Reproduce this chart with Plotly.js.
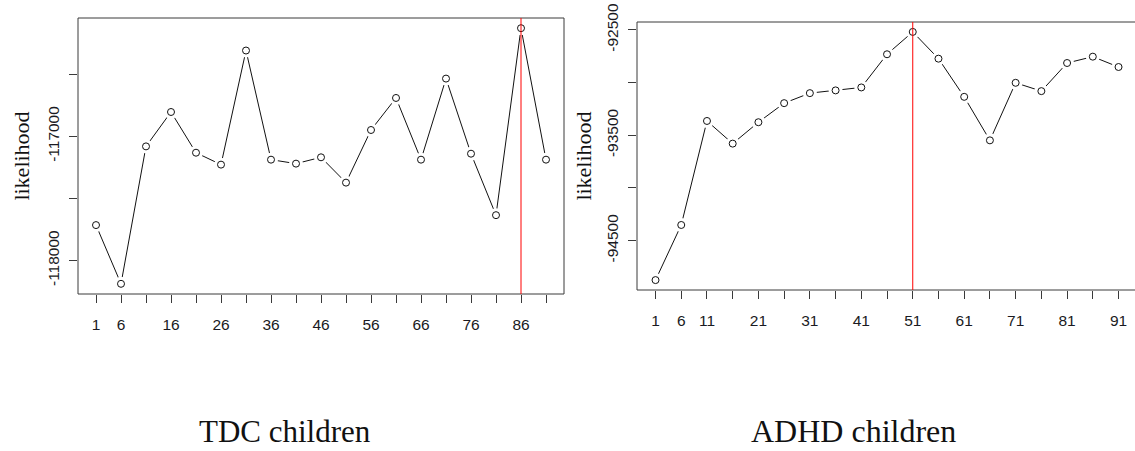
<!DOCTYPE html>
<html>
<head>
<meta charset="utf-8">
<script src="https://cdn.plot.ly/plotly-3.0.1.min.js"></script>
<style>
  html, body { margin: 0; padding: 0; background: #ffffff; }
  #chart { width: 1135px; height: 451px; }
</style>
</head>
<body>
<div id="chart"></div>
<script>
// ---- data ----
const clusters = [1, 6, 11, 16, 21, 26, 31, 36, 41, 46, 51, 56, 61, 66, 71, 76, 81, 86, 91];
const tdcLikelihood = [-117715, -118188, -117081, -116804, -117132, -117228, -116309, -117188, -117220,
                       -117169, -117373, -116949, -116691, -117188, -116535, -117140, -117635, -116129, -117188];
const adhdLikelihood = [-94874, -94351, -93364, -93579, -93376, -93195, -93100, -93074, -93046,
                        -92731, -92519, -92773, -93135, -93548, -93002, -93081, -92814, -92754, -92852];
const tdcBest = 86;
const adhdBest = 51;
const tdcXTickLabels = ["1", "6", "", "16", "", "26", "", "36", "", "46", "", "56", "", "66", "", "76", "", "86", ""];
const adhdXTickLabels = ["1", "6", "11", "", "21", "", "31", "", "41", "", "51", "", "61", "", "71", "", "81", "", "91"];
const tdcYTicks = [-116500, -117000, -117500, -118000];
const tdcYTickLabels = ["", "-117000", "", "-118000"];
const adhdYTicks = [-92500, -93000, -93500, -94000, -94500];
const adhdYTickLabels = ["-92500", "", "-93500", "", "-94500"];
const panelTitles = ["TDC children", "ADHD children"];
const yTitle = "likelihood";

// ---- styling ----
const W = 1135, H = 451;
const px = v => v / W;
const py = v => (H - v) / H;
const tickFont = { family: "Liberation Sans, Arial, sans-serif", size: 15.5, color: "#1a1a22" };
const serif = "Liberation Serif, Times New Roman, serif";
const frameColor = "#3a3a3a";

function seriesTraces(x, y, xa, ya) {
  return [
    { x: x, y: y, xaxis: xa, yaxis: ya, type: "scatter", mode: "lines",
      line: { color: "#111111", width: 1 }, hoverinfo: "skip", showlegend: false },
    { x: x, y: y, xaxis: xa, yaxis: ya, type: "scatter", mode: "markers",
      marker: { symbol: "circle", size: 14, color: "#ffffff", line: { width: 0 } },
      hoverinfo: "skip", showlegend: false },
    { x: x, y: y, xaxis: xa, yaxis: ya, type: "scatter", mode: "markers",
      marker: { symbol: "circle-open", size: 7, color: "#111111", line: { width: 1, color: "#111111" } },
      showlegend: false }
  ];
}

const data = [].concat(
  seriesTraces(clusters, tdcLikelihood, "x", "y"),
  seriesTraces(clusters, adhdLikelihood, "x2", "y2")
);

const L = { x0: px(78), x1: px(564), y0: py(294), y1: py(18) };
const R = { x0: px(637), x1: 1, y0: py(290), y1: py(22) };

const xBase = {
  tickmode: "array", tickvals: clusters, ticks: "outside", ticklen: 8, tickwidth: 1,
  tickcolor: frameColor, tickfont: tickFont, showgrid: false, zeroline: false, showline: false,
  ticklabelstandoff: 8, fixedrange: true
};
const yBase = {
  tickmode: "array", ticks: "outside", ticklen: 8, tickwidth: 1, tickangle: -90,
  tickcolor: frameColor, tickfont: tickFont, showgrid: false, zeroline: false, showline: false,
  ticklabelstandoff: 4, fixedrange: true
};

const layout = {
  width: W, height: H,
  margin: { l: 0, r: 0, t: 0, b: 0 },
  paper_bgcolor: "#ffffff", plot_bgcolor: "rgba(0,0,0,0)",
  showlegend: false,
  xaxis: Object.assign({}, xBase, { domain: [L.x0, L.x1], range: [-2.6, 94.6], ticktext: tdcXTickLabels, anchor: "y" }),
  yaxis: Object.assign({}, yBase, { domain: [L.y0, L.y1], range: [-118270, -116047],
    tickvals: tdcYTicks, ticktext: tdcYTickLabels, anchor: "x",
    title: { text: yTitle, font: { family: serif, size: 22, color: "#111111" }, standoff: 9 } }),
  xaxis2: Object.assign({}, xBase, { domain: [R.x0, R.x1], range: [-2.6, 94.2], ticktext: adhdXTickLabels, anchor: "y2" }),
  yaxis2: Object.assign({}, yBase, { domain: [R.y0, R.y1], range: [-94968, -92425],
    tickvals: adhdYTicks, ticktext: adhdYTickLabels, anchor: "x2",
    title: { text: yTitle, font: { family: serif, size: 22, color: "#111111" }, standoff: 6 } }),
  shapes: [
    { type: "rect", xref: "paper", yref: "paper", x0: L.x0, x1: L.x1, y0: L.y0, y1: L.y1,
      line: { color: frameColor, width: 1 }, layer: "above" },
    { type: "line", xref: "paper", yref: "paper", x0: R.x0, x1: R.x1, y0: R.y1, y1: R.y1,
      line: { color: frameColor, width: 1 }, layer: "above" },
    { type: "line", xref: "paper", yref: "paper", x0: R.x0, x1: R.x1, y0: R.y0, y1: R.y0,
      line: { color: frameColor, width: 1 }, layer: "above" },
    { type: "line", xref: "paper", yref: "paper", x0: R.x0, x1: R.x0, y0: R.y0, y1: R.y1,
      line: { color: frameColor, width: 1 }, layer: "above" },
    { type: "line", xref: "x", yref: "paper", x0: tdcBest, x1: tdcBest, y0: L.y0, y1: L.y1,
      line: { color: "#ff0000", width: 1 }, layer: "above" },
    { type: "line", xref: "x2", yref: "paper", x0: adhdBest, x1: adhdBest, y0: R.y0, y1: R.y1,
      line: { color: "#ff0000", width: 1 }, layer: "above" }
  ],
  annotations: [
    { text: panelTitles[0], xref: "paper", yref: "paper", x: px(285), y: py(431),
      xanchor: "center", yanchor: "middle", showarrow: false,
      font: { family: serif, size: 31, color: "#111111" } },
    { text: panelTitles[1], xref: "paper", yref: "paper", x: px(853), y: py(431),
      xanchor: "center", yanchor: "middle", showarrow: false,
      font: { family: serif, size: 32, color: "#111111" } }
  ]
};

Plotly.newPlot("chart", data, layout, { displayModeBar: false, staticPlot: true });
</script>
</body>
</html>
